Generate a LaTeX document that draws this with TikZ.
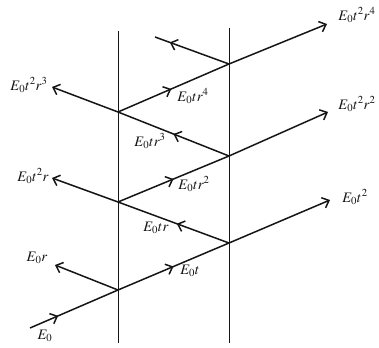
\documentclass[tikz,border=0pt]{standalone}
\usepackage{mathptmx}
\usetikzlibrary{arrows.meta,decorations.markings}
\definecolor{fpink}{HTML}{151515}
\tikzset{
  fpwall/.style={draw=fpink, line width=1pt},
  fpray/.style={draw=fpink, line width=1.5pt},
  fpout/.style={fpray, -{Straight Barb[length=6pt,width=11pt]}},
  fpmid/.style={fpray, postaction={decorate},
                decoration={markings, mark=at position #1 with
                  {\arrow{Straight Barb[length=6pt,width=11pt]}}}},
  fpmid/.default=0.5,
  fplabel/.style={font=\fontsize{14.5}{16}\selectfont, inner sep=0pt, text=fpink},
}

\begin{document}
\begin{tikzpicture}[x=1pt,y=-1pt]
  \useasboundingbox (0,0) rectangle (379,347);
  % the two surfaces
  \coordinate (lwtop) at (118,31);  \coordinate (lwbot) at (118,343);
  \coordinate (rwtop) at (229,28);  \coordinate (rwbot) at (229,343);
  \draw[fpwall] (lwtop) -- (lwbot);
  \draw[fpwall] (rwtop) -- (rwbot);
  % hit points and free ends
  \coordinate (src) at (30,328);
  \foreach \n/\y in {1/290, 2/202, 3/112} {\coordinate (l\n) at (118,\y);}
  \foreach \n/\y in {1/243, 2/156, 3/64}  {\coordinate (r\n) at (229,\y);}
  \foreach \n/\x/\y in {1/330/200, 2/328/112, 3/327/24} {\coordinate (o\n) at (\x,\y);}
  \foreach \n/\x/\y in {1/55/265, 2/52/178, 3/52/87} {\coordinate (b\n) at (\x,\y);}
  \coordinate (ptop) at (155,37);
  % bouncing ray
  \draw[fpmid=0.32] (src) -- (l1);
  \draw[fpmid=0.5]  (l1) -- (r1);
  \draw[fpmid=0.47] (r1) -- (l2);
  \draw[fpmid=0.5]  (l2) -- (r2);
  \draw[fpmid=0.5]  (r2) -- (l3);
  \draw[fpmid=0.48] (l3) -- (r3);
  \draw[fpmid=0.8]  (r3) -- (ptop);
  \foreach \n in {1,2,3} {
    \draw[fpout] (l\n) -- (b\n);
    \draw[fpout] (r\n) -- (o\n);
  }
  % labels
  \node[fplabel] (e0)     at (45,336)  {$E_0$};
  \node[fplabel] (e0r)    at (37,258)  {$E_0r$};
  \node[fplabel] (e0t)    at (190,271) {$E_0t$};
  \node[fplabel] (e0tr)   at (156,228) {$E_0tr$};
  \node[fplabel] (e0tr2)  at (194,184) {$E_0tr^2$};
  \node[fplabel] (e0t2r)  at (33,176)  {$E_0t^2r$};
  \node[fplabel] (e0tr3)  at (150,141) {$E_0tr^3$};
  \node[fplabel] (e0t2r3) at (29,85)   {$E_0t^2r^3$};
  \node[fplabel] (e0tr4)  at (193,96)  {$E_0tr^4$};
  \node[fplabel] (e0t2r4) at (357,15)  {$E_0t^2r^4$};
  \node[fplabel] (e0t2r2) at (357,104) {$E_0t^2r^2$};
  \node[fplabel] (e0t2)   at (355,197) {$E_0t^2$};
\end{tikzpicture}
\end{document}
